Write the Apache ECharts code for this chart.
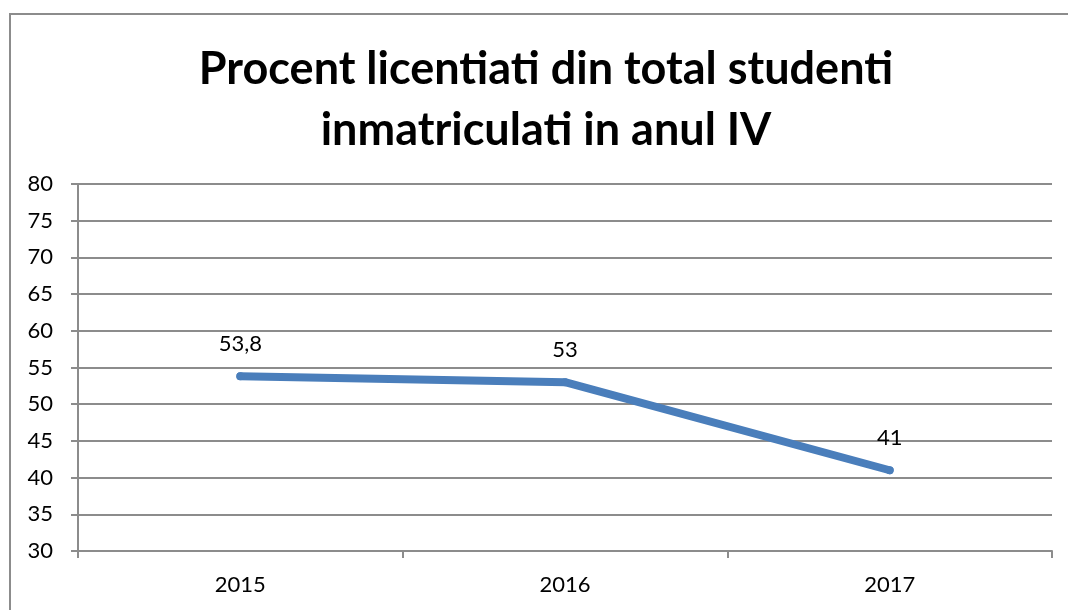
<!DOCTYPE html>
<html>
<head>
<meta charset="utf-8">
<script src="https://cdn.jsdelivr.net/npm/echarts@6/dist/echarts.min.js"></script>
<style>
  html, body { margin: 0; padding: 0; background: #fff; overflow: hidden; }
  #frame { position: absolute; left: 9px; top: 13px; width: 1200px; height: 800px; border: 2px solid #8c8c8c; box-sizing: border-box; }
  #chart { position: absolute; left: 0; top: 0; width: 1068px; height: 610px; }
</style>
</head>
<body>
<div id="frame"></div>
<div id="chart"></div>
<script>
// date grafic
var years = ['2015', '2016', '2017'];
var procent = [53.8, 53, 41];
var titlu = 'Procent licentiati din total studenti\ninmatriculati in anul IV';

var fontFam = 'Lato, "Open Sans", sans-serif';
var gri = '#8c8c8c';

var myechart = echarts.init(document.getElementById('chart'));
var option = {
    backgroundColor: 'transparent',
    animation: false,
    title: {
        text: titlu,
        left: 541,
        top: 34,
        textAlign: 'center',
        textStyle: {
            fontFamily: fontFam,
            fontSize: 45,
            fontWeight: 'bold',
            color: '#000',
            lineHeight: 61
        }
    },
    grid: { left: 78, right: 16, top: 184, bottom: 59 },
    xAxis: {
        type: 'category',
        data: years,
        boundaryGap: true,
        axisLine: { lineStyle: { color: gri, width: 2 } },
        axisTick: { show: true, length: 7, lineStyle: { color: gri, width: 2 } },
        axisLabel: { margin: 23, fontFamily: fontFam, fontSize: 22, color: '#000' }
    },
    yAxis: {
        type: 'value',
        min: 30,
        max: 80,
        interval: 5,
        axisLine: { show: true, lineStyle: { color: gri, width: 2 } },
        axisTick: { show: true, length: 7, lineStyle: { color: gri, width: 2 } },
        axisLabel: { margin: 25, fontFamily: fontFam, fontSize: 22, color: '#000' },
        splitLine: { lineStyle: { color: gri, width: 2 } }
    },
    series: [{
        type: 'line',
        data: procent,
        symbol: 'circle',
        symbolSize: 8,
        showSymbol: true,
        itemStyle: { color: '#4a7ebb' },
        lineStyle: { color: '#4a7ebb', width: 8, cap: 'round', join: 'round' },
        label: {
            show: true,
            position: 'top',
            distance: 17,
            fontFamily: fontFam,
            fontSize: 22,
            color: '#000',
            formatter: function (p) { return String(p.value).replace('.', ','); }
        }
    }]
};
myechart.setOption(option);
</script>
</body>
</html>
